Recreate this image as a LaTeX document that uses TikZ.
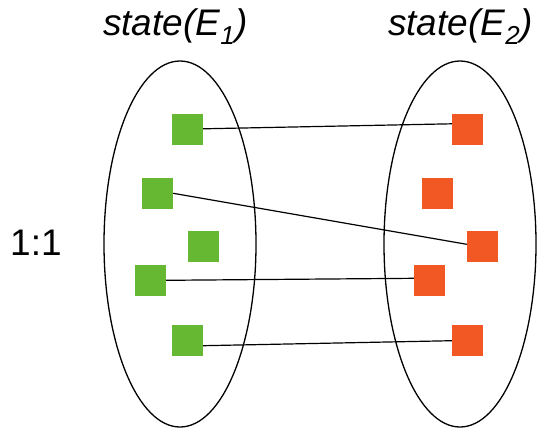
\documentclass[tikz,border=0pt]{standalone}
\usepackage{fontspec}
\setmainfont{Liberation Sans}
\usepackage{xcolor}
\usepackage{tikz}
\usetikzlibrary{shapes.geometric}

\definecolor{elemgreen}{RGB}{102,183,50}
\definecolor{elemred}{RGB}{241,88,36}

\begin{document}
\begin{tikzpicture}[
  x=1pt, y=-1pt,
  set/.style={ellipse, draw, line width=1.3pt, minimum width=152pt, minimum height=366pt, inner sep=0pt},
  elem/.style={rectangle, minimum size=31pt, inner sep=0pt},
  left elem/.style={elem, fill=elemgreen},
  right elem/.style={elem, fill=elemred},
  label text/.style={anchor=base west, inner sep=0pt, font=\fontsize{37}{40}\selectfont},
  link/.style={line width=1.2pt}
]

\useasboundingbox (0,0) rectangle (537,431);

\node[set] (e1) at (180,244) {};
\node[set] (e2) at (460,244) {};

\node[label text] (t1) at (103,35) {\itshape state(E\textsubscript{1})};
\node[label text] (t2) at (388,35) {\itshape state(E\textsubscript{2})};
\node[label text] (ratio) at (10,255) {1:1};

\node[left elem] (g1) at (187.5,129.3) {};
\node[left elem] (g2) at (157.5,193.3) {};
\node[left elem] (g3) at (203.5,246.3) {};
\node[left elem] (g4) at (150.5,280.3) {};
\node[left elem] (g5) at (187.5,340.3) {};

\node[right elem] (r1) at (467.5,129.3) {};
\node[right elem] (r2) at (437.5,193.3) {};
\node[right elem] (r3) at (482.5,246.3) {};
\node[right elem] (r4) at (429.5,280.3) {};
\node[right elem] (r5) at (467.5,340.3) {};

\draw[link] ([yshift=0.5pt]g1.east) -- ([yshift=5.5pt]r1.west);
\draw[link] (g2.east) -- ([yshift=2pt]r3.west);
\draw[link] (g4.east) -- ([yshift=2pt]r4.west);
\draw[link] ([yshift=-5.4pt]g5.east) -- ([yshift=-0.4pt]r5.west);

\end{tikzpicture}
\end{document}
